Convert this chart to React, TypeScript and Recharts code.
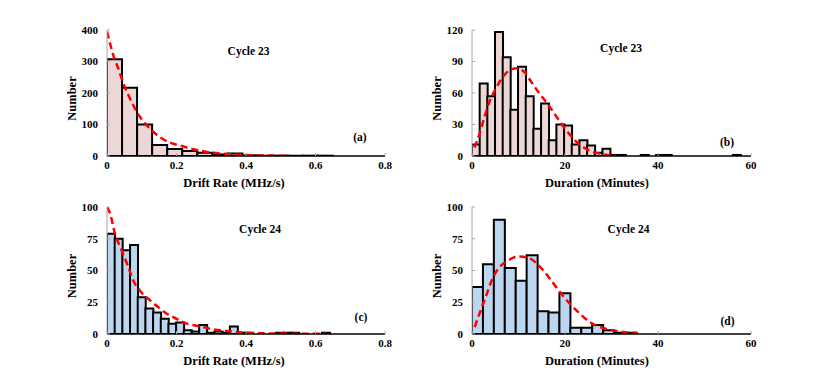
import { ComposedChart, Bar, Line, XAxis, YAxis, Label } from 'recharts';

const FONT = '"Liberation Serif", "Times New Roman", serif';
const PINK = '#ecd6d6';
const BLUE = '#bdd6ef';
const BOX = '#a8a8a8';
const RED = '#ff0000';

// (a) cycle 23 drift rate, 15 bins up to 0.65 MHz/s
const A_BIN = 0.65 / 15;
const A_COUNTS = [307, 217, 100, 35, 22, 16, 10, 5, 8, 2, 1, 1, 1, 1, 1];
const A_FIT_X = [0, 0.01, 0.02, 0.03, 0.05, 0.066, 0.09, 0.11, 0.133, 0.155, 0.176, 0.2, 0.22, 0.245, 0.267, 0.305, 0.335, 0.363, 0.4, 0.45, 0.53];
const A_FIT_Y = [395, 352, 313, 285, 222, 183, 132, 103, 77, 58, 45, 36, 30, 22, 17, 10, 7, 5, 3, 1.5, 0.3];

// (b) cycle 23 duration, bins of 1.65 min
const B_BIN = 1.65;
const B_COUNTS = [11, 69, 57, 118, 94, 44, 85, 57, 26, 50, 15, 30, 29, 11, 15, 10, 3, 7, 1, 1, 0, 0, 1, 0, 1, 1, 0, 0, 0, 0, 0, 0, 0, 0, 1];
const B_FIT_X = [0.5, 1.6, 2.6, 3.7, 5.2, 6.6, 8.4, 9.8, 11.25, 12.7, 14.1, 15.5, 17, 18.4, 19.85, 21.3, 23.1, 24.9, 27, 29.2, 31];
const B_FIT_Y = [8, 21, 36, 51, 65, 75, 82.5, 83.5, 80, 71, 62, 54, 45, 36, 27, 19, 11, 6, 2.7, 1, 0.3];

// (c) cycle 24 drift rate, bins of 0.0221 MHz/s
const C_BIN = 0.0221;
const C_COUNTS = [79, 75, 66, 70, 29, 20, 17, 12, 8, 9, 3, 2, 7, 1, 2, 1, 6, 1, 1, 0, 0, 0, 1, 1, 1, 0, 0, 0, 1];
const C_FIT_X = [0, 0.0086, 0.023, 0.042, 0.061, 0.076, 0.095, 0.124, 0.148, 0.172, 0.2, 0.229, 0.268, 0.296, 0.344, 0.392, 0.45, 0.52, 0.63];
const C_FIT_Y = [100, 95, 79, 66, 53, 42, 34, 26.5, 21, 16, 12, 8.2, 6, 4.2, 2.4, 1.1, 0.5, 0.3, 0.1];

// (d) cycle 24 duration, bins of 2.35 min
const D_BIN = 2.35;
const D_COUNTS = [37, 55, 90, 52, 42, 62, 18, 17, 32, 5, 5, 7, 3, 1, 1];
const D_FIT_X = [0.57, 1.8, 3.1, 4.1, 5.2, 6.3, 7.4, 8.8, 10.3, 12.4, 14.6, 16.7, 18.9, 21, 23.2, 25.3, 28.2, 31.8, 35.7];
const D_FIT_Y = [5.5, 18, 30.6, 41, 49, 54, 57, 60, 61, 59.6, 53, 43.8, 33, 24, 16, 9.5, 4.7, 2, 0.8];

const DRIFT_TICKS = [0, 0.2, 0.4, 0.6, 0.8];
const DUR_TICKS = [0, 20, 40, 60];

const tickStyle = { fill: '#000', fontSize: 11, fontWeight: 'bold', fontFamily: FONT };
const titleStyle = { fill: '#000', fontSize: 12.5, fontWeight: 'bold', fontFamily: FONT };

function Panel({ plotLeft, plotTop, plotW, plotH, counts, bin, fitX, fitY, xMax, xTicks, yMax, yTicks, fill, xLabel, labelShift }: any) {
  const bars = counts.map((n: number, i: number) => ({ x: (i + 0.5) * bin, n }));
  const fit = fitX.map((x: number, i: number) => ({ x, y: fitY[i] }));
  const margin = { top: 20, right: 15, left: 20, bottom: 26 };
  const yw = 47;
  const width = margin.left + yw + plotW + margin.right;
  const height = margin.top + plotH + 20 + margin.bottom;
  return (
    <div style={{ position: 'absolute', left: plotLeft - margin.left - yw, top: plotTop - margin.top }}>
      <ComposedChart width={width} height={height} data={bars} margin={margin} barCategoryGap={0}>
        <XAxis
          xAxisId="bin"
          type="number"
          dataKey="x"
          domain={[0, xMax]}
          ticks={xTicks}
          allowDataOverflow
          height={20}
          tickSize={-3}
          tickMargin={8.5}
          tick={tickStyle}
          tickLine={{ stroke: BOX }}
          axisLine={{ stroke: '#000', strokeWidth: 1.5 }}
        >
          <Label value={xLabel} position="bottom" offset={2} dx={labelShift} style={titleStyle} />
        </XAxis>
        <XAxis xAxisId="fit" type="number" dataKey="x" domain={[0, xMax]} allowDataOverflow hide />
        <XAxis
          xAxisId="top"
          orientation="top"
          type="number"
          domain={[0, xMax]}
          ticks={xTicks}
          allowDataOverflow
          height={0}
          tick={false}
          tickSize={-3}
          tickLine={{ stroke: BOX }}
          axisLine={{ stroke: BOX }}
        />
        <YAxis
          type="number"
          domain={[0, yMax]}
          ticks={yTicks}
          allowDataOverflow
          width={yw}
          tickSize={-3}
          tickMargin={12}
          tick={tickStyle}
          tickLine={{ stroke: BOX }}
          axisLine={{ stroke: BOX }}
        >
          <Label value="Number" angle={-90} position="insideLeft" offset={12} dy={5.5} style={{ ...titleStyle, textAnchor: 'middle' }} />
        </YAxis>
        <YAxis
          yAxisId="right"
          orientation="right"
          type="number"
          domain={[0, yMax]}
          ticks={yTicks}
          allowDataOverflow
          width={0}
          tick={false}
          tickSize={-3}
          tickLine={{ stroke: BOX }}
          axisLine={{ stroke: BOX }}
        />
        <Bar xAxisId="bin" dataKey="n" fill={fill} stroke="#000" strokeWidth={2} isAnimationActive={false} />
        <Line
          xAxisId="fit"
          data={fit}
          dataKey="y"
          type="monotone"
          stroke={RED}
          strokeWidth={2.5}
          strokeDasharray="7 4"
          dot={false}
          activeDot={false}
          isAnimationActive={false}
        />
      </ComposedChart>
    </div>
  );
}

function Note({ x, y, text }: { x: number; y: number; text: string }) {
  return (
    <div
      style={{
        position: 'absolute',
        left: x,
        top: y,
        transform: 'translate(-50%, -50%)',
        fontFamily: FONT,
        fontWeight: 'bold',
        fontSize: 11.5,
        lineHeight: 1,
        whiteSpace: 'nowrap',
        color: '#000',
      }}
    >
      {text}
    </div>
  );
}

export default function App() {
  return (
    <div style={{ position: 'absolute', left: 0, top: 0, width: 830, height: 375, background: '#fff', overflow: 'hidden' }}>
      <Panel plotLeft={107} plotTop={30} plotW={278} plotH={126} counts={A_COUNTS} bin={A_BIN} fitX={A_FIT_X} fitY={A_FIT_Y}
        xMax={0.8} xTicks={DRIFT_TICKS} yMax={400} yTicks={[0, 100, 200, 300, 400]} fill={PINK} xLabel="Drift Rate (MHz/s)" labelShift={-12} />
      <Panel plotLeft={472} plotTop={30} plotW={279} plotH={126} counts={B_COUNTS} bin={B_BIN} fitX={B_FIT_X} fitY={B_FIT_Y}
        xMax={60} xTicks={DUR_TICKS} yMax={120} yTicks={[0, 30, 60, 90, 120]} fill={PINK} xLabel="Duration (Minutes)" labelShift={-14.5} />
      <Panel plotLeft={107} plotTop={207} plotW={278} plotH={127} counts={C_COUNTS} bin={C_BIN} fitX={C_FIT_X} fitY={C_FIT_Y}
        xMax={0.8} xTicks={DRIFT_TICKS} yMax={100} yTicks={[0, 25, 50, 75, 100]} fill={BLUE} xLabel="Drift Rate (MHz/s)" labelShift={-12} />
      <Panel plotLeft={472} plotTop={207} plotW={279} plotH={127} counts={D_COUNTS} bin={D_BIN} fitX={D_FIT_X} fitY={D_FIT_Y}
        xMax={60} xTicks={DUR_TICKS} yMax={100} yTicks={[0, 25, 50, 75, 100]} fill={BLUE} xLabel="Duration (Minutes)" labelShift={-14.5} />

      <Note x={248.5} y={52} text="Cycle 23" />
      <Note x={621} y={49} text="Cycle 23" />
      <Note x={260} y={230} text="Cycle 24" />
      <Note x={628.5} y={229.5} text="Cycle 24" />
      <Note x={360} y={138} text="(a)" />
      <Note x={727} y={143} text="(b)" />
      <Note x={361} y={318} text="(c)" />
      <Note x={727.5} y={321.5} text="(d)" />
    </div>
  );
}
